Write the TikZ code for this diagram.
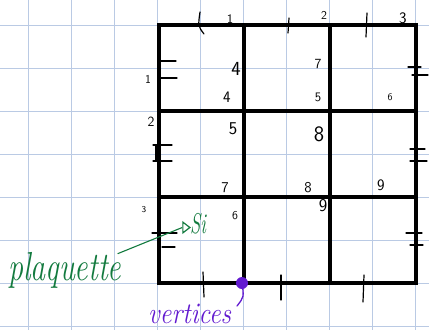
\documentclass[tikz,border=0pt]{standalone}
\usetikzlibrary{shapes.geometric}
\definecolor{gridblue}{RGB}{186,202,228}
\definecolor{pgreen}{RGB}{18,122,62}
\definecolor{vpurple}{RGB}{98,26,208}
\begin{document}
\begin{tikzpicture}[x=1pt,y=-1pt,
  bggrid/.style={gridblue,line width=1.3pt},
  heavy/.style={line width=4.6pt,line cap=rect},
  tickmark/.style={line width=1.2pt,line cap=round},
  lab/.style={inner sep=0pt,font=\fontsize{#1}{#1}\selectfont\sffamily},
  lab/.default=13]
\useasboundingbox (0,0) rectangle (429,330);
\fill[white] (0,0) rectangle (429,330);
% background paper grid
\foreach \x in {28.5,71.5,114.5,157.5,200.5,243.5,286.5,329.5,372.5,415.5}
  \draw[bggrid] (\x,0) -- (\x,330);
\foreach \y in {25.5,68.5,111.5,154.5,197.5,240.5,283.5,326.5}
  \draw[bggrid] (0,\y) -- (429,\y);
% heavy lattice
\foreach \x in {159,244,330,416}
  \draw[heavy] (\x,25) -- (\x,283);
\foreach \y in {25,111,197,283}
  \draw[heavy] (159,\y) -- (416,\y);
% ticks on top and bottom edges
\draw[tickmark] (200,12) .. controls (198,26) .. (204,34);
\draw[tickmark] (289,18) -- (288,33);
\draw[tickmark] (367,13) -- (366,37);
\draw[tickmark] (203,272) -- (204,297);
\draw[tickmark] (281,275) -- (281,300);
\draw[tickmark] (364,275) -- (363,302);
% double ticks on left edge
\draw[tickmark] (160,61) -- (176,61);
\draw[tickmark] (160,78) -- (177,78);
\draw[tickmark] (153,145) -- (172,145);
\draw[tickmark] (153,161) -- (172,161);
\draw[tickmark] (156,145) -- (156,161);
\draw[tickmark] (152,233) -- (177,233);
\draw[tickmark] (162,247) -- (175,247);
% double ticks on right edge
\draw[tickmark] (408,67) -- (421,67);
\draw[tickmark] (412,75) -- (428,75);
\draw[tickmark] (410,149) -- (425,149);
\draw[tickmark] (410,161) -- (427,161);
\draw[tickmark] (406,233) -- (422,233);
\draw[tickmark] (410,245) -- (423,245);
% boundary labels
\node[lab=13] (t1) at (230,19) {1};
\node[lab=12] (t2) at (324,15) {2};
\node[lab=16] (t3) at (403,18) {3};
\node[lab=12] (l1) at (148,79) {1};
\node[lab=14] (l2) at (151,122) {2};
\node[lab=9]  (l3) at (144,210) {3};
% edge labels inside cells
\node[lab=20] (e4a) at (236,69) {4};
\node[lab=16] (e4b) at (227,97) {4};
\node[lab=14] (e7a) at (318,64) {7};
\node[lab=13] (e5a) at (318,97) {5};
\node[lab=10] (e6a) at (390,97) {6};
\node[lab=18] (e5b) at (233,129) {5};
\node[lab=15] (e7b) at (225,188) {7};
\node[lab=22] (e8a) at (319,134) {8};
\node[lab=15] (e8b) at (308,188) {8};
\node[lab=16] (e9a) at (381,185) {9};
\node[lab=12] (e6b) at (235,216) {6};
\node[lab=18] (e9b) at (323,206) {9};
% plaquette annotation
\node[pgreen,inner sep=0pt,anchor=base west,font=\fontsize{30}{30}\selectfont\itshape] (plaq) at (8,280) {\scalebox{1}[1.35]{plaquette}};
\node[pgreen,draw,line width=1.2pt,isosceles triangle,isosceles triangle apex angle=75,
  inner sep=0pt,minimum width=10pt,minimum height=7pt] (tri) at (185.5,227.5) {};
\node[pgreen,inner sep=0pt,anchor=base west,font=\fontsize{22}{22}\selectfont\itshape] (si) at (190,233) {\scalebox{0.85}[1.3]{Si}};
\draw[pgreen,line width=1.1pt] ([xshift=-4pt,yshift=-2pt]plaq.north east) -- (tri.west);
% vertex annotation
\node[circle,fill=vpurple,inner sep=0pt,minimum size=12pt] (v) at (242,283) {};
\node[vpurple,inner sep=0pt,anchor=base west,font=\fontsize{26}{26}\selectfont\itshape] (vert) at (148,323) {\scalebox{1}[1.15]{vertices}};
\coordinate (vend) at (237,306);
\draw[vpurple,line width=1.3pt,line cap=round] (v.center) .. controls (244,297) .. (vend);
\end{tikzpicture}
\end{document}
